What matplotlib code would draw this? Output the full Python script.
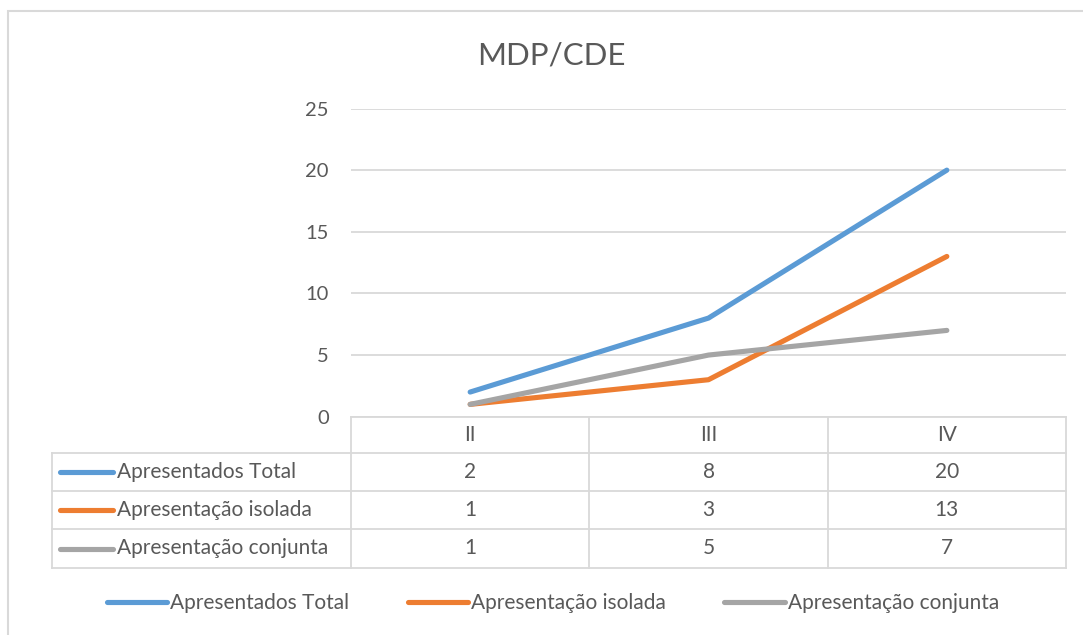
import matplotlib.pyplot as plt
from matplotlib.lines import Line2D
from matplotlib.patches import Rectangle

W, H = 1083, 635

# data
categories = ["II", "III", "IV"]
series_names = ["Apresentados Total", "Apresentação isolada", "Apresentação conjunta"]
apresentados_total = [2, 8, 20]
apresentacao_isolada = [1, 3, 13]
apresentacao_conjunta = [1, 5, 7]
series = [apresentados_total, apresentacao_isolada, apresentacao_conjunta]
colors = ["#5B9BD5", "#ED7D31", "#A5A5A5"]

text_color = "#595959"
grid_color = "#D9D9D9"

plt.rcParams["font.family"] = ["Lato", "DejaVu Sans"]

fig = plt.figure(figsize=(W / 100, H / 100), dpi=100)


def fx(px):
    return px / W


def fy(py):
    return 1 - py / H


# outer chart border (cut off at right and bottom like the screenshot)
fig.add_artist(Rectangle((fx(8), fy(H + 20)), fx(W + 20) - fx(8), fy(11) - fy(H + 20),
                         transform=fig.transFigure, fill=False, ec=grid_color, lw=1.5))

# plot area
left, right, top, bottom = 351, 1066, 108.5, 416.7
ax = fig.add_axes([fx(left), fy(bottom), fx(right) - fx(left), fy(top) - fy(bottom)])
x = range(len(categories))
for vals, c in zip(series, colors):
    ax.plot(x, vals, color=c, lw=3.7, solid_capstyle="round", clip_on=False, zorder=3)

ax.set_xlim(-0.5, len(categories) - 0.5)
ax.set_ylim(0, 25)
ax.set_yticks(range(0, 26, 5))
ax.set_xticks([])
ax.grid(axis="y", color=grid_color, lw=1.3)
ax.set_axisbelow(True)
for s in ax.spines.values():
    s.set_visible(False)
ax.tick_params(axis="y", length=0, pad=16, labelsize=14.5, labelcolor=text_color)

# title
fig.text(fx(551), fy(55), "MDP/CDE", ha="center", va="center", fontsize=22.5, color=text_color)

# data table
col_edges = [left + i * (right - left) / len(categories) for i in range(len(categories) + 1)]
row_edges = [bottom, 453, 491, 529, 568]
tbl_left = 52
fs = 15


def hline(y, x0, x1):
    fig.add_artist(Line2D([fx(x0), fx(x1)], [fy(y), fy(y)], transform=fig.transFigure,
                          color=grid_color, lw=1.3))


def vline(xp, y0, y1):
    fig.add_artist(Line2D([fx(xp), fx(xp)], [fy(y0), fy(y1)], transform=fig.transFigure,
                          color=grid_color, lw=1.3))


hline(row_edges[0], left, right)
for y in row_edges[1:]:
    hline(y, tbl_left, right)
vline(tbl_left, row_edges[1], row_edges[-1])
for xp in col_edges:
    vline(xp, row_edges[0], row_edges[-1])

centers = [(col_edges[i] + col_edges[i + 1]) / 2 for i in range(len(categories))]
hy = (row_edges[0] + row_edges[1]) / 2
for cx, cat in zip(centers, categories):
    fig.text(fx(cx), fy(hy), cat, ha="center", va="center", fontsize=fs, color=text_color)

for r, (name, vals, c) in enumerate(zip(series_names, series, colors)):
    ry = (row_edges[r + 1] + row_edges[r + 2]) / 2
    fig.add_artist(Line2D([fx(60), fx(113)], [fy(ry), fy(ry)], transform=fig.transFigure,
                          color=c, lw=3.7, solid_capstyle="round"))
    fig.text(fx(117), fy(ry), name, ha="left", va="center", fontsize=fs, color=text_color)
    for cx, v in zip(centers, vals):
        fig.text(fx(cx), fy(ry), str(v), ha="center", va="center", fontsize=fs, color=text_color)

# legend
handles = [Line2D([], [], color=c, lw=3.7, solid_capstyle="round") for c in colors]
fig.legend(handles, series_names, loc="center", bbox_to_anchor=(fx(553), fy(603)), ncol=3,
           frameon=False, fontsize=fs, labelcolor=text_color, handlelength=2.9,
           handletextpad=0.15, columnspacing=2.8)

fig.savefig("out.png", dpi=100)
